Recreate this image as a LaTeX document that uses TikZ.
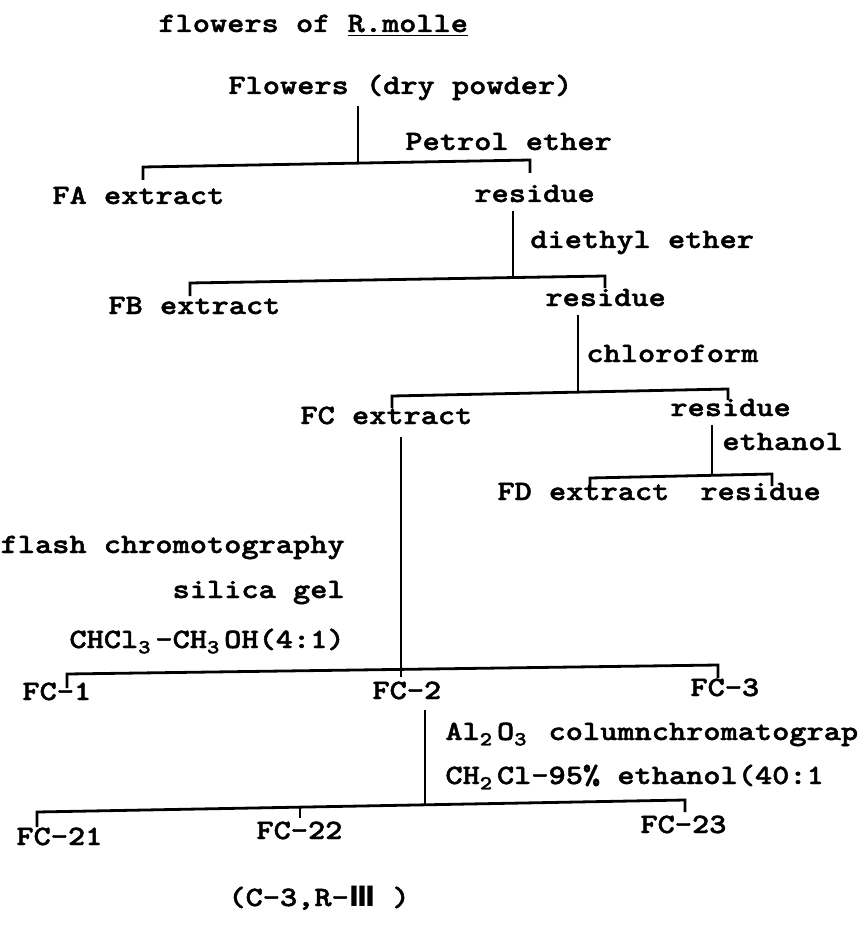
\documentclass[tikz,border=0pt]{standalone}
\usepackage{fontspec}
\setmonofont{lmmonolt10-bold.otf}[FakeStretch=1.17, FakeBold=1.6]
\newfontfamily\numfont{DejaVu Sans}
% subscript digit that keeps the monospaced cell width
\newcommand{\lowsub}[1]{\makebox[0.614em][l]{\raisebox{-0.45ex}{\fontsize{10}{11}\selectfont #1}}}
\begin{document}
\begin{tikzpicture}[x=0.5pt,y=-0.5pt,
  lbl/.style={inner sep=0pt, anchor=base west, font=\ttfamily\fontsize{14}{16}\selectfont},
  lblr/.style={lbl, anchor=base east},
  conn/.style={line width=1.4pt, line cap=butt, line join=miter}]
\useasboundingbox (0,0) rectangle (862,925);

% ---- texts ----
\node[lbl] (title)   at (158,32)  {flowers of \underline{R.molle}};
\node[lbl] (flowers) at (228,94)  {Flowers (dry powder)};
\node[lbl] (s1)      at (405,150) {Petrol ether};
\node[lbl] (fa)      at (52,204)  {FA extract};
\node[lbl] (r1)      at (474,202) {residue};
\node[lbl] (s2)      at (530,248) {diethyl ether};
\node[lbl] (fb)      at (108,314) {FB extract};
\node[lbl] (r2)      at (545,306) {residue};
\node[lbl] (s3)      at (586,362) {chloroform};
\node[lbl] (fc)      at (300,424) {FC extract};
\node[lbl] (r3)      at (670,416) {residue};
\node[lbl] (s4)      at (722,450) {ethanol};
\node[lbl] (fd)      at (497,500) {FD extract};
\node[lbl] (r4)      at (700,500) {residue};
\node[lblr] (m1)     at (345,553) {flash chromotography};
\node[lblr] (m2)     at (345,598) {silica gel};
\node[lblr] (m3)     at (345,648) {CHCl\lowsub{3}-CH\lowsub{3}OH(4:1)};
\node[lbl] (fc1)     at (22,700)  {FC-1};
\node[lbl] (fc2)     at (372,699) {FC-2};
\node[lbl] (fc3)     at (690,696) {FC-3};
\node[lbl] (m4)      at (445,740) {Al\lowsub{2}O\lowsub{3} columnchromatograp};
\node[lbl] (m5)      at (445,784) {CH\lowsub{2}Cl-95\% ethanol(40:1};
\node[lbl] (fc21)    at (16,845)  {FC-21};
\node[lbl] (fc22)    at (256,839) {FC-22};
\node[lbl] (fc23)    at (640,833) {FC-23};
\node[lbl] (note)    at (228,906) {(C-3,R-{\numfont\bfseries Ⅲ} )};

% ---- split 1: petrol ether ----
\coordinate (j1) at (358,163);
\coordinate (a1) at (143,167);
\coordinate (b1) at (530,160);
\draw[conn] (j1 |- flowers.south) ++(0,5) -- (j1);
\draw[conn] (a1) ++(0,13) -- (a1) -- (b1) -- ++(0,13);

% ---- split 2: diethyl ether ----
\coordinate (j2) at (513,279);
\coordinate (a2) at (190,283);
\coordinate (b2) at (605,276);
\draw[conn] (j2 |- r1.south) ++(0,8) -- (j2);
\draw[conn] (a2) ++(0,13) -- (a2) -- (b2) -- ++(0,12);

% ---- split 3: chloroform ----
\coordinate (j3) at (578,392);
\coordinate (a3) at (392,396);
\coordinate (b3) at (728,389);
\draw[conn] (j3 |- r2.south) ++(0,8) -- (j3);
\draw[conn] (a3) ++(0,12) -- (a3) -- (b3) -- ++(0,11);

% ---- split 4: ethanol ----
\coordinate (j4) at (712,475);
\coordinate (a4) at (590,478);
\coordinate (b4) at (772,474);
\draw[conn] (j4 |- r3.south) ++(0,8) -- (j4);
\draw[conn] (a4) ++(0,12) -- (a4) -- (b4) -- ++(0,12);

% ---- split 5: flash chromatography ----
\coordinate (j5) at (401,670);
\coordinate (a5) at (67,674);
\coordinate (b5) at (718,665);
\draw[conn] (j5 |- fc.south) ++(0,12) -- (j5) -- ++(0,7);
\draw[conn] (a5) ++(0,14) -- (a5) -- (b5) -- ++(0,13);

% ---- split 6: alumina column ----
\coordinate (j6) at (425,804);
\coordinate (a6) at (37,812);
\coordinate (b6) at (685,800);
\coordinate (c6) at (300,807);
\draw[conn] (j6 |- fc2.south) ++(0,10) -- (j6);
\draw[conn] (a6) ++(0,15) -- (a6) -- (b6) -- ++(0,12);
\draw[conn] (c6) -- ++(0,11);
\end{tikzpicture}
\end{document}
